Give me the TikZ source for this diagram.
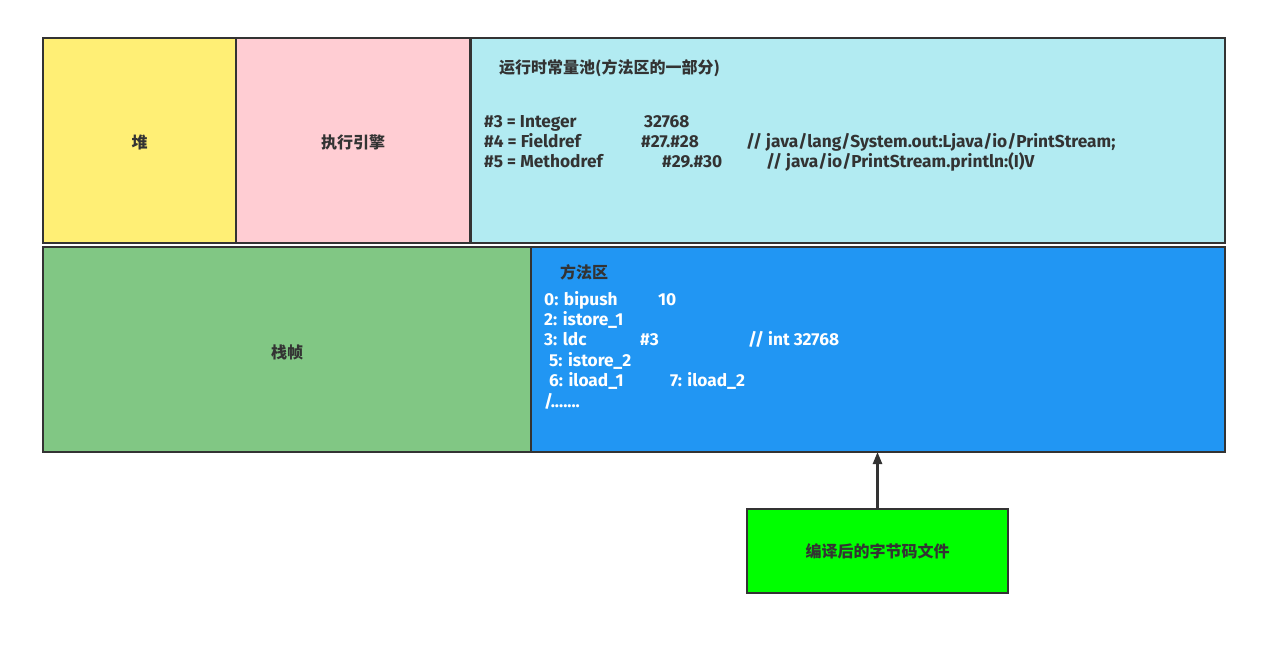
\documentclass[tikz,border=0pt]{standalone}
\usepackage{fontspec}
\setmainfont{Fira Sans}
\newfontfamily\cjk{Noto Sans CJK SC}
\usetikzlibrary{arrows.meta}
\definecolor{edge}{HTML}{333333}
\definecolor{heapc}{HTML}{FFEF75}
\definecolor{enginec}{HTML}{FFCDD3}
\definecolor{poolc}{HTML}{B2EBF2}
\definecolor{stackc}{HTML}{81C784}
\definecolor{methodc}{HTML}{2196F3}
\definecolor{bytec}{HTML}{00FF00}
\tikzset{
  box/.style={draw=edge, line width=2.4pt},
  cn/.style={font=\cjk\bfseries\fontsize{16}{20}\selectfont, text=edge, inner sep=0pt},
  tx/.style={font=\bfseries\fontsize{17.3}{20}\selectfont, text=edge, inner sep=0pt, anchor=base west},
  wt/.style={tx, text=white},
}
\begin{document}
\begin{tikzpicture}[x=1pt,y=-1pt]
\useasboundingbox (0,0) rectangle (1277,651);
% boxes
\draw[box, fill=heapc] (43,38) rectangle (236,243);
\draw[box, fill=enginec] (236,38) rectangle (470,243);
\draw[box, fill=poolc] (471,38) rectangle (1225,243);
\draw[box, fill=stackc] (43,247) rectangle (531,452);
\draw[box, fill=methodc] (531,247) rectangle (1225,452);
\node[box, fill=bytec, minimum width=261pt, minimum height=84pt, inner sep=0pt] (byte) at (877.5,551) {};
\coordinate (mtop) at (877.5,452);
\node[cn] at (139.5,142) {堆};
\node[cn] at (353,142) {执行引擎};
\node[cn] at (287,352) {栈帧};
\node[cn] at (byte.center) {编译后的字节码文件};
% pool
\node[cn, anchor=west] at (499,68) {运行时常量池(方法区的一部分)};
\node[tx] at (484,127) {\#3 = Integer};
\node[tx] at (644,127) {32768};
\node[tx] at (484,147) {\#4 = Fieldref};
\node[tx] at (641,147) {\#27.\#28};
\node[tx] at (746,147) {// java/lang/System.out:Ljava/io/PrintStream;};
\node[tx] at (484,167) {\#5 = Methodref};
\node[tx] at (662,167) {\#29.\#30};
\node[tx] at (766,167) {// java/io/PrintStream.println:(I)V};
% method area
\node[cn, anchor=west] at (560,272) {方法区};
\node[wt] at (544,305) {0: bipush};
\node[wt] at (658,305) {10};
\node[wt] at (544,325) {2: istore\_1};
\node[wt] at (544,345) {3: ldc};
\node[wt] at (640,345) {\#3};
\node[wt] at (748,345) {// int 32768};
\node[wt] at (549,366) {5: istore\_2};
\node[wt] at (549,386) {6: iload\_1};
\node[wt] at (670,386) {7: iload\_2};
\node[wt] at (544,407) {/.......};
% arrow
\draw[draw=edge, line width=2.4pt, -{Triangle[length=12pt,width=9pt]}] (byte.north) -- (mtop);
\end{tikzpicture}
\end{document}
